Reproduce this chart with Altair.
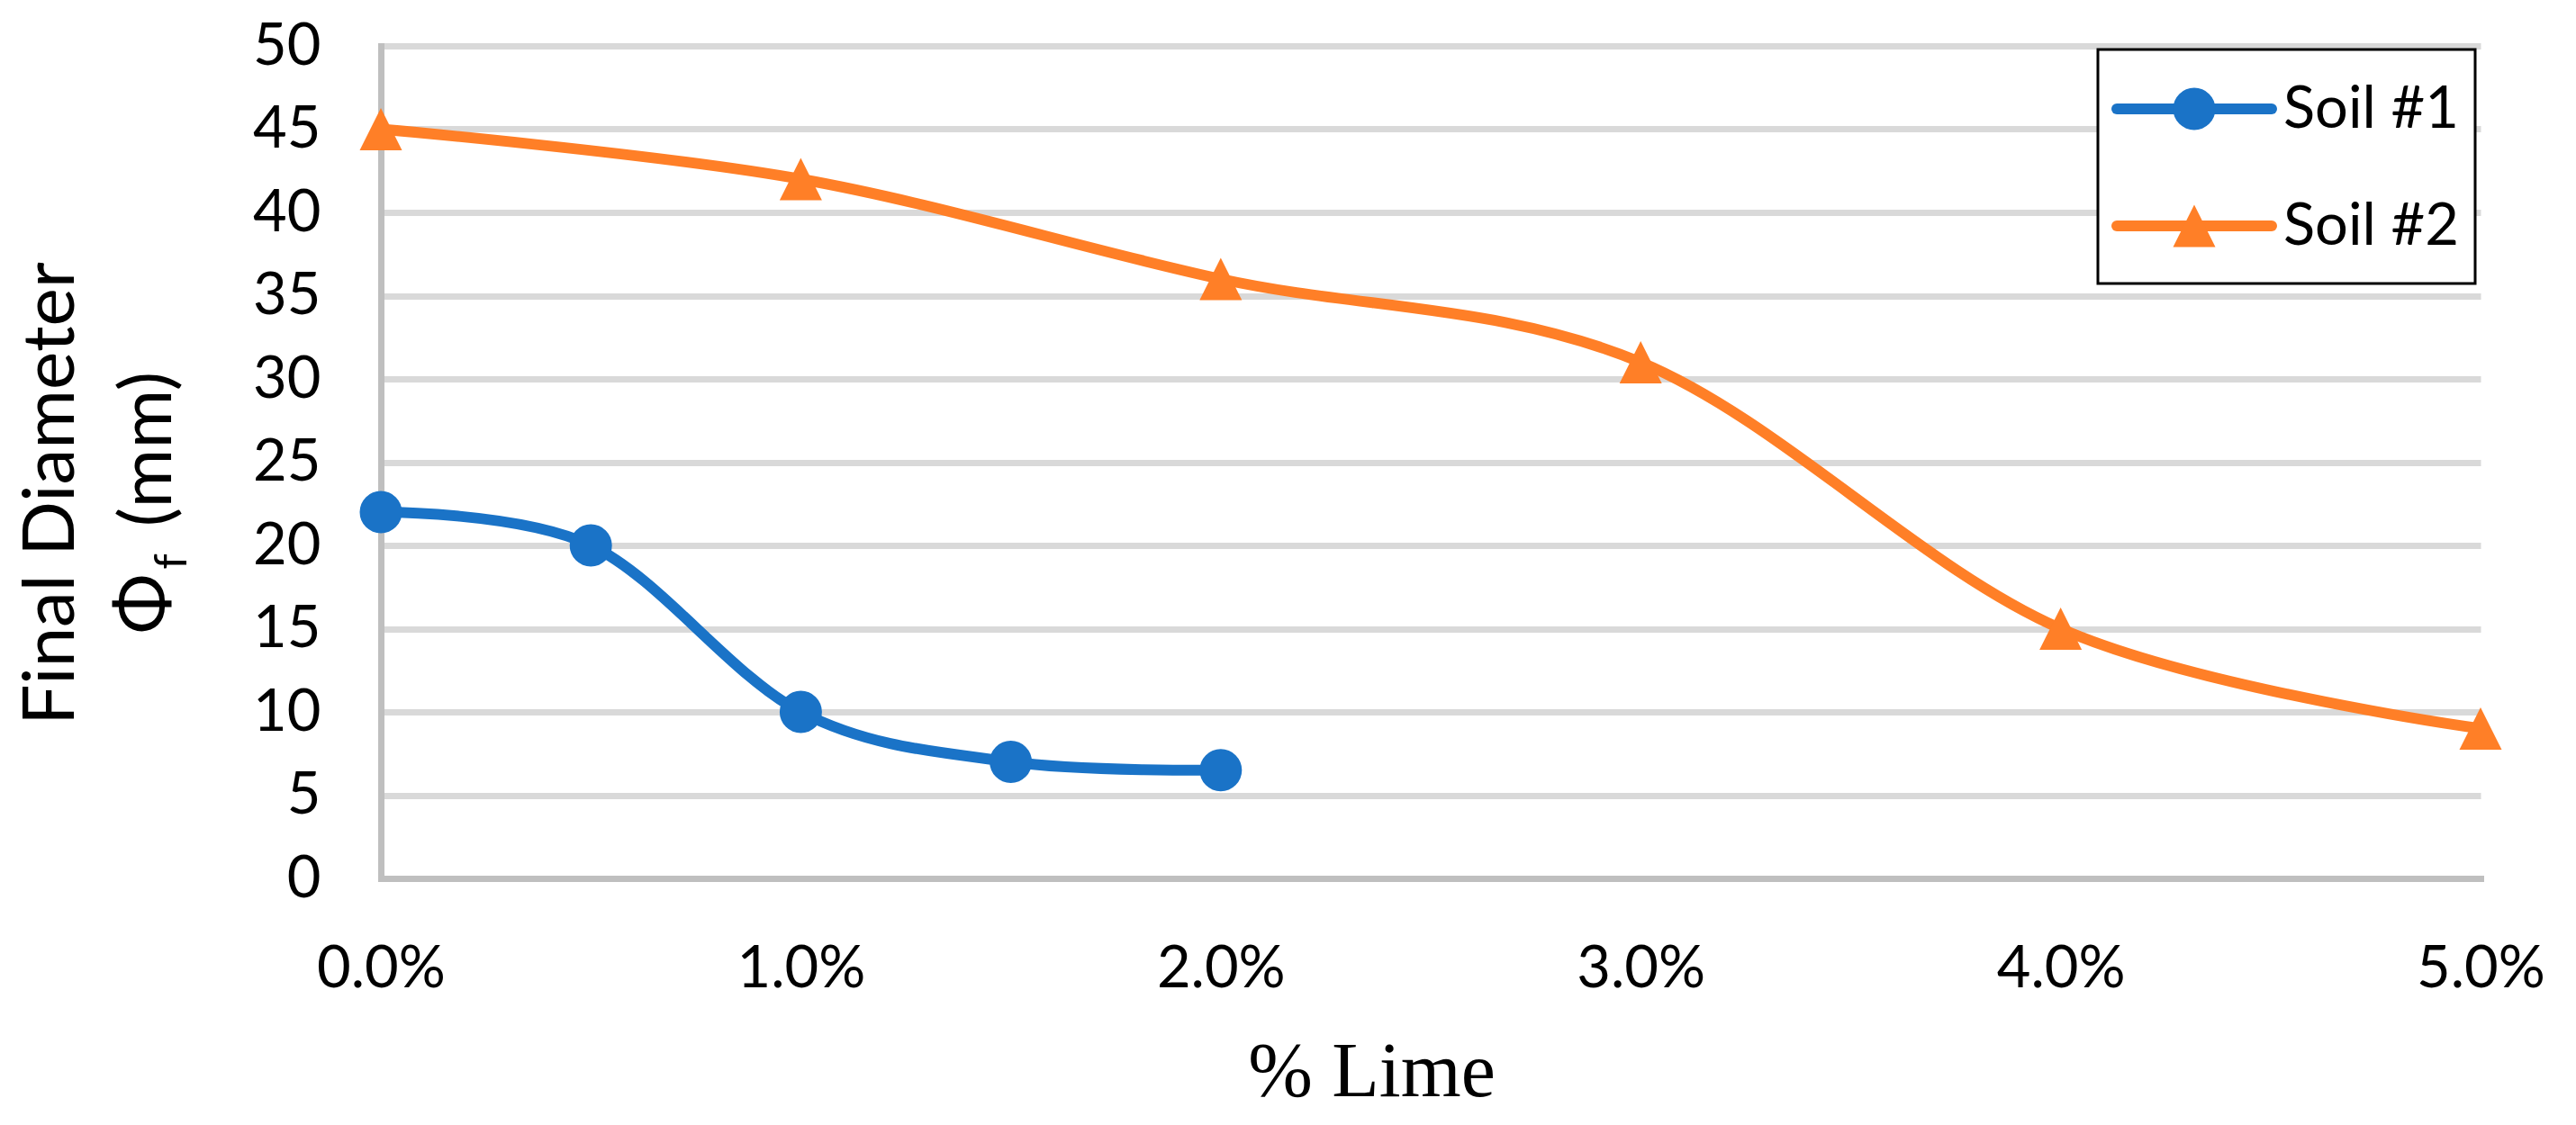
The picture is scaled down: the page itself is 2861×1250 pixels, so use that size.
import altair as alt
import pandas as pd

# ---- data ----
lime_soil1 = [0.0, 0.005, 0.010, 0.015, 0.020]
diam_soil1 = [22, 20, 10, 7, 6.5]
lime_soil2 = [0.0, 0.01, 0.02, 0.03, 0.04, 0.05]
diam_soil2 = [45, 42, 36, 31, 15, 9]
series_names = ["Soil #1", "Soil #2"]
series_colors = ["#1a73c7", "#ff7f27"]
series_shapes = ["circle", "M0,-1L1,1L-1,1Z"]
x_ticks = [0.0, 0.01, 0.02, 0.03, 0.04, 0.05]
y_ticks = [0, 5, 10, 15, 20, 25, 30, 35, 40, 45, 50]

df = pd.concat([
    pd.DataFrame({"lime": lime_soil1, "diam": diam_soil1, "series": series_names[0]}),
    pd.DataFrame({"lime": lime_soil2, "diam": diam_soil2, "series": series_names[1]}),
], ignore_index=True)

W, H = 2332, 925
FONT = "Lato"
TICK_FS = 65
TITLE_FS = 80
MARKER = 2209
LINE_W = 12

x_enc = alt.X(
    "lime:Q",
    scale=alt.Scale(domain=[0, 0.05], nice=False, zero=False),
    axis=alt.Axis(
        values=x_ticks, format=".1%", grid=False, ticks=False, tickSize=0,
        domainColor="#BFBFBF", domainWidth=7, domainCap="square",
        labelFont=FONT, labelFontSize=TICK_FS, labelColor="black",
        labelPadding=120, labelBaseline="alphabetic", labelFlush=False,
        labelOverlap=False, labelBound=False,
        title="% Lime", titleFont="Liberation Serif", titleFontSize=86,
        titleFontWeight="normal", titleColor="black",
        titleX=1100, titleY=241, titleBaseline="alphabetic", titleAlign="center",
    ),
)
y_enc = alt.Y(
    "diam:Q",
    scale=alt.Scale(domain=[0, 50], nice=False),
    axis=alt.Axis(
        values=y_ticks, grid=True,
        gridColor={"condition": {"test": "datum.value === 0", "value": "#BFBFBF"}, "value": "#D9D9D9"},
        gridWidth=7, ticks=False, tickSize=0,
        domainColor="#BFBFBF", domainWidth=7, domainCap="square",
        labelFont=FONT, labelFontSize=TICK_FS, labelColor="black",
        labelPadding=67, labelFlush=False, labelOverlap=False, labelBound=False,
        title="Final Diameter", titleFont=FONT, titleFontSize=TITLE_FS,
        titleFontWeight="normal", titleColor="black", titleAngle=270,
        titleX=-366, titleY=497, titleBaseline="middle", titleAlign="center",
    ),
)
color_enc = alt.Color("series:N", scale=alt.Scale(domain=series_names, range=series_colors), legend=None)
shape_enc = alt.Shape("series:N", scale=alt.Scale(domain=series_names, range=series_shapes), legend=None)

base = alt.Chart(df)
lines = base.mark_line(
    interpolate="cardinal", tension=0, strokeWidth=LINE_W, strokeCap="round", strokeJoin="round"
).encode(x=x_enc, y=y_enc, color=color_enc, detail="series:N")
points = base.mark_point(filled=True, size=MARKER, opacity=1).encode(
    x=x_enc, y=y_enc, color=color_enc, shape=shape_enc
)

layers = [lines, points]

# ---- y-axis title, second line: Φ_f (mm) ----
one = pd.DataFrame({"k": [0]})
layers.append(alt.Chart(one).mark_text(angle=270, align="center", baseline="middle",
                                       font=FONT, fontSize=TITLE_FS, color="black").encode(
    x=alt.value(-261), y=alt.value(620), text=alt.value("Φ")))
layers.append(alt.Chart(one).mark_text(angle=270, align="center", baseline="middle",
                                       font=FONT, fontSize=50, color="black").encode(
    x=alt.value(-231), y=alt.value(573), text=alt.value("f")))
layers.append(alt.Chart(one).mark_text(angle=270, align="center", baseline="middle",
                                       font=FONT, fontSize=TITLE_FS, color="black").encode(
    x=alt.value(-257), y=alt.value(448), text=alt.value("(mm)")))

# ---- legend ----
layers.append(alt.Chart(one).mark_rect(fill="white", stroke="black", strokeWidth=3).encode(
    x=alt.value(1907), x2=alt.value(2326), y=alt.value(4), y2=alt.value(264)))
leg_y = [70, 200]
for name, col, shp, ly in zip(series_names, series_colors, series_shapes, leg_y):
    d = pd.DataFrame({"series": [name]})
    layers.append(alt.Chart(d).mark_rule(color=col, strokeWidth=LINE_W, strokeCap="round").encode(
        x=alt.value(1928), x2=alt.value(2100), y=alt.value(ly)))
    layers.append(alt.Chart(d).mark_point(filled=True, shape=shp, size=MARKER, color=col, opacity=1).encode(
        x=alt.value(2014), y=alt.value(ly)))
    layers.append(alt.Chart(d).mark_text(align="left", baseline="alphabetic", font=FONT,
                                         fontSize=TICK_FS, color="black").encode(
        x=alt.value(2113), y=alt.value(ly + 21), text="series:N"))

chart = alt.layer(*layers).properties(
    width=W, height=H,
    padding={"left": 415, "top": 43, "right": 98, "bottom": 266},
    autosize=alt.AutoSizeParams(type="none"),
    background="white",
).configure_view(stroke=None)

chart.save("out.html", embed_options={"renderer": "svg", "actions": False})
